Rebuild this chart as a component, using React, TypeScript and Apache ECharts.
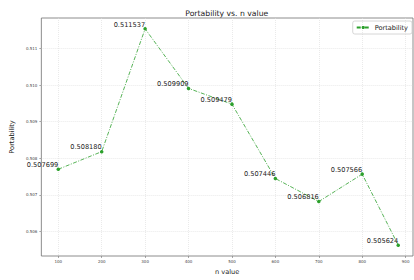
import React, { useEffect, useRef } from "react";
import * as echarts from "echarts";

const nValues = [100, 200, 300, 400, 500, 600, 700, 800, 883];
const portability = [0.507699, 0.50818, 0.511537, 0.509909, 0.509479, 0.507446, 0.506816, 0.507566, 0.505624];
const xTicks = [100, 200, 300, 400, 500, 600, 700, 800, 900];
const yTicks = [0.506, 0.507, 0.508, 0.509, 0.51, 0.511];

const FONT = "DejaVu Sans";
const GREEN = "#2ca02c";

export default function App() {
  const ref = useRef<HTMLDivElement>(null);
  useEffect(() => {
    if (!ref.current) return;
    const chart = echarts.init(ref.current, null, { renderer: "svg" });
    chart.setOption({
      animation: false,
      backgroundColor: "#ffffff",
      textStyle: { fontFamily: FONT },
      grid: {
        left: 37,
        right: 1,
        top: 18,
        bottom: 20,
        show: true,
        borderColor: "#707070",
        borderWidth: 0.8,
      },
      graphic: [
        {
          type: "text",
          x: 226.8,
          y: 13,
          style: {
            text: "Portability vs. n value",
            font: `7.7px "${FONT}"`,
            fill: "#222",
            align: "center",
            verticalAlign: "middle",
          },
        },
      ],
      legend: {
        data: ["Portability"],
        right: 2,
        top: 21,
        padding: [3, 4, 3, 3],
        borderColor: "#cccccc",
        borderWidth: 0.8,
        borderRadius: 2,
        itemWidth: 13,
        itemHeight: 4,
        textStyle: { fontFamily: FONT, fontSize: 6.6, color: "#222" },
      },
      xAxis: {
        type: "value",
        min: 61,
        max: 917,
        name: "n value",
        nameLocation: "middle",
        nameGap: 12,
        nameTextStyle: { fontFamily: FONT, fontSize: 6.6, color: "#222" },
        axisLine: { show: false },
        axisTick: { show: true, length: 2, lineStyle: { color: "#707070", width: 0.6 }, customValues: xTicks },
        axisLabel: {
          fontFamily: FONT,
          fontSize: 4,
          color: "#444",
          margin: 3,
          customValues: xTicks,
        },
        splitLine: { show: true, lineStyle: { color: "#dcdcdc", type: [1, 1], width: 0.6 } },
      },
      yAxis: {
        type: "value",
        min: 0.505328,
        max: 0.511833,
        name: "Portability",
        nameLocation: "middle",
        nameGap: 20,
        nameTextStyle: { fontFamily: FONT, fontSize: 6.6, color: "#222" },
        axisLine: { show: false },
        axisTick: { show: true, length: 2, lineStyle: { color: "#707070", width: 0.6 }, customValues: yTicks },
        axisLabel: {
          fontFamily: FONT,
          fontSize: 4,
          color: "#444",
          margin: 4,
          customValues: yTicks,
          formatter: (v: number) => v.toFixed(3),
        },
        splitLine: { show: true, lineStyle: { color: "#dcdcdc", type: [1, 1], width: 0.6 } },
      },
      series: [
        {
          name: "Portability",
          type: "line",
          data: nValues.map((n, i) => [n, portability[i]]),
          symbol: "circle",
          symbolSize: 3.5,
          itemStyle: { color: GREEN },
          lineStyle: { color: GREEN, width: 0.8, type: [4, 1.5, 1, 1.5] },
          label: {
            show: true,
            position: [1.75, 1],
            align: "right",
            verticalAlign: "bottom",
            fontFamily: FONT,
            fontSize: 6.6,
            color: "#222",
            formatter: (p: any) => p.value[1].toFixed(6),
          },
          labelLayout: { hideOverlap: false },
        },
      ],
    });
    return () => chart.dispose();
  }, []);
  return <div ref={ref} style={{ position: "fixed", left: 0, top: 0, width: 414, height: 280 }} />;
}
